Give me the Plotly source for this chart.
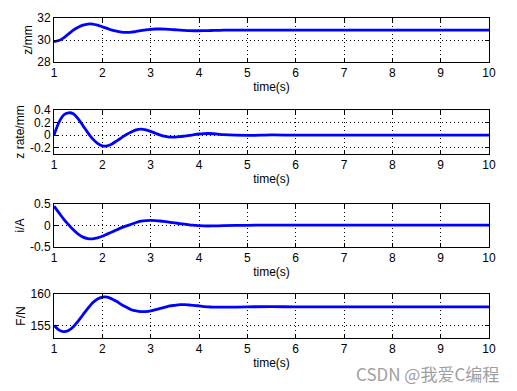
import plotly.graph_objects as go

time = [1.0, 1.1, 1.2, 1.3, 1.4, 1.5, 1.6, 1.7, 1.8, 1.9, 2.0, 2.1, 2.2, 2.3, 2.4, 2.5,
        2.6, 2.7, 2.8, 2.9, 3.0, 3.1, 3.2, 3.3, 3.4, 3.5, 3.6, 3.7, 3.8, 3.9, 4.0, 4.1,
        4.2, 4.3, 4.4, 4.5, 5.0, 5.5, 6.0, 7.0, 8.0, 9.0, 10.0]

z_mm = [29.85, 29.95, 30.2, 30.55, 30.9, 31.15, 31.35, 31.45, 31.45, 31.35, 31.2, 31.05,
        30.9, 30.8, 30.72, 30.7, 30.72, 30.78, 30.85, 30.92, 30.97, 31.0, 31.0, 30.99,
        30.96, 30.93, 30.9, 30.87, 30.85, 30.84, 30.84, 30.85, 30.86, 30.87, 30.88, 30.89,
        30.9, 30.9, 30.9, 30.9, 30.9, 30.9, 30.9]

z_rate = [0.0, 0.2, 0.32, 0.355, 0.34, 0.26, 0.15, 0.04, -0.06, -0.13, -0.17, -0.17,
          -0.14, -0.09, -0.04, 0.01, 0.05, 0.085, 0.095, 0.085, 0.06, 0.03, 0.0, -0.02,
          -0.03, -0.03, -0.025, -0.015, -0.005, 0.008, 0.018, 0.024, 0.026, 0.022, 0.015,
          0.008, -0.005, 0.003, 0.0, 0.0, 0.0, 0.0, 0.0]

i_A = [0.45, 0.3, 0.15, 0.02, -0.1, -0.2, -0.27, -0.305, -0.31, -0.29, -0.25, -0.2,
       -0.15, -0.1, -0.05, -0.01, 0.03, 0.07, 0.1, 0.115, 0.12, 0.115, 0.105, 0.09,
       0.075, 0.06, 0.045, 0.03, 0.015, 0.005, -0.005, -0.01, -0.012, -0.01, -0.008,
       -0.005, 0.005, 0.01, 0.01, 0.01, 0.01, 0.01, 0.01]

F_N = [155.0, 154.3, 154.0, 154.2, 154.8, 155.7, 156.7, 157.7, 158.6, 159.2, 159.5,
       159.5, 159.2, 158.8, 158.3, 157.9, 157.5, 157.3, 157.2, 157.2, 157.3, 157.5,
       157.7, 157.9, 158.1, 158.2, 158.3, 158.3, 158.25, 158.2, 158.1, 158.0, 157.95,
       157.9, 157.9, 157.9, 157.95, 158.0, 157.95, 157.95, 157.95, 157.95, 157.95]

series = [z_mm, z_rate, i_A, F_N]
y_titles = ["z/mm", "z rate/mm", "i/A", "F/N"]
y_ranges = [[28, 32], [-0.3, 0.4], [-0.5, 0.5], [153, 160]]
y_ticks = [[28, 30, 32], [-0.2, 0, 0.2, 0.4], [-0.5, 0, 0.5], [155, 160]]
y_ticktext = [["28", "30", "32"], ["-0.2", "0", "0.2", "0.4"], ["-0.5", "0", "0.5"], ["155", "160"]]
x_ticks = [1, 2, 3, 4, 5, 6, 7, 8, 9, 10]

OFF = 8  # page body margin
W, H = 517 - OFF, 391 - OFF
px_tops = [18, 110, 204, 294]
px_bots = [62, 154, 247, 338]
x_dom = [(54 - OFF) / W, (489 - OFF) / W]

fig = go.Figure()
font = dict(family="Liberation Sans, Arial, sans-serif", size=12, color="black")
layout = dict(width=W, height=H, margin=dict(l=0, r=0, t=0, b=0),
              paper_bgcolor="white", plot_bgcolor="white", showlegend=False, font=font)

for k in range(4):
    n = "" if k == 0 else str(k + 1)
    fig.add_trace(go.Scatter(x=time, y=series[k], mode="lines",
                             line=dict(color="#0000ff", width=2.8, shape="spline", smoothing=0.8),
                             xaxis="x" + n, yaxis="y" + n))
    common = dict(showline=True, linecolor="black", linewidth=1, mirror="ticks",
                  ticks="inside", ticklen=4, tickcolor="black", showgrid=True,
                  gridcolor="black", griddash="1px,3px", gridwidth=1, zeroline=False,
                  tickfont=font, automargin=False)
    layout["xaxis" + n] = dict(common, domain=x_dom, range=[1, 10], tickvals=x_ticks,
                               anchor="y" + n,
                               title=dict(text="time(s)", font=font, standoff=3))
    layout["yaxis" + n] = dict(common,
                               domain=[1 - (px_bots[k] - OFF) / H, 1 - (px_tops[k] - OFF) / H],
                               range=y_ranges[k], tickvals=y_ticks[k],
                               ticktext=y_ticktext[k], anchor="x" + n,
                               title=dict(text=y_titles[k], font=font, standoff=2))

fig.update_layout(**layout)
fig.add_annotation(text="CSDN @我爱C编程", xref="paper", yref="paper",
                   x=(501 - OFF) / W, y=1 - (373 - OFF) / H, xanchor="right", yanchor="middle",
                   showarrow=False,
                   font=dict(family="Noto Sans CJK SC, sans-serif", size=17, color="#a0a0a0"))
fig.write_html("out.html")
